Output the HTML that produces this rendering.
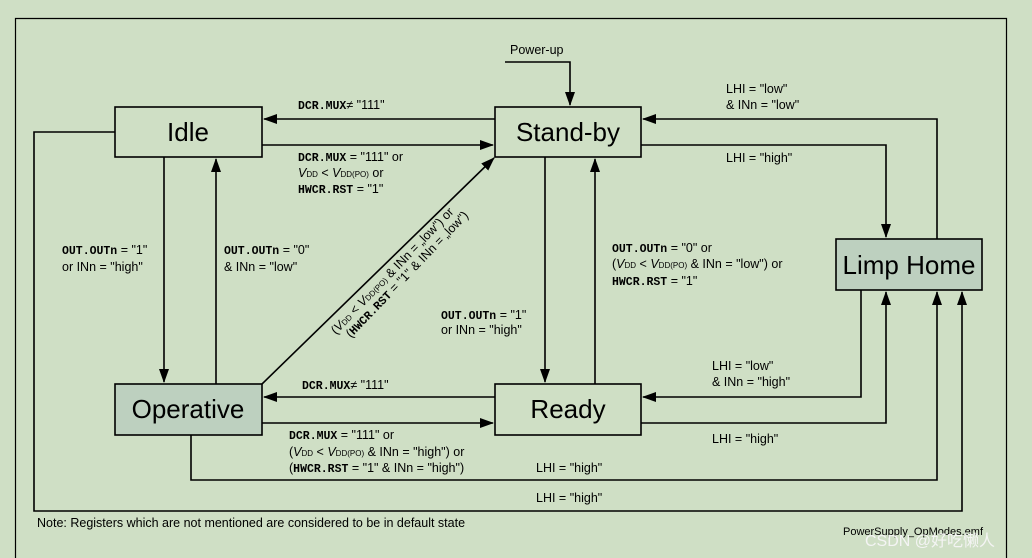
<!DOCTYPE html>
<html><head><meta charset="utf-8"><style>
html,body{margin:0;padding:0;background:#cfdfc5;}
svg{display:block;}
text{font-family:"Liberation Sans",sans-serif;font-size:12.5px;fill:#000;}
.m{font-family:"Liberation Mono",monospace;font-weight:bold;font-size:11.5px;}
.n{font-size:26px;}
.s{font-size:8px;}
</style></head><body>
<svg width="1032" height="558" viewBox="0 0 1032 558" xmlns="http://www.w3.org/2000/svg">
<defs><marker id="a" markerWidth="14" markerHeight="10" refX="13" refY="5" orient="auto" markerUnits="userSpaceOnUse"><path d="M0,0 L14,5 L0,10 z" fill="#000"/></marker></defs>
<rect width="1032" height="558" fill="#cfdfc5"/>
<path d="M15.5,570 V18.5 H1006.5 V570" fill="none" stroke="#000" stroke-width="1.2"/>
<g fill="none" stroke="#000" stroke-width="1.6">
<rect x="115" y="107" width="147" height="50" fill="#cfdfc5"/>
<rect x="495" y="107" width="146" height="50" fill="#cfdfc5"/>
<rect x="836" y="239" width="146" height="51" fill="#bdd0bf"/>
<rect x="115" y="384" width="147" height="51" fill="#bdd0bf"/>
<rect x="495" y="384" width="146" height="51" fill="#cfdfc5"/>
<path d="M505,62 H570 V105" marker-end="url(#a)"/>
<path d="M495,119 H264" marker-end="url(#a)"/>
<path d="M262,145 H493" marker-end="url(#a)"/>
<path d="M164,157 V382" marker-end="url(#a)"/>
<path d="M216,384 V159" marker-end="url(#a)"/>
<path d="M545,157 V382" marker-end="url(#a)"/>
<path d="M595,384 V159" marker-end="url(#a)"/>
<path d="M262,384 L494,158" marker-end="url(#a)"/>
<path d="M495,397 H264" marker-end="url(#a)"/>
<path d="M262,423 H493" marker-end="url(#a)"/>
<path d="M641,145 H886 V237" marker-end="url(#a)"/>
<path d="M937,239 V119 H643" marker-end="url(#a)"/>
<path d="M861,290 V397 H643" marker-end="url(#a)"/>
<path d="M641,423 H886 V292" marker-end="url(#a)"/>
<path d="M191,435 V480 H937 V292" marker-end="url(#a)"/>
<path d="M115,132 H34 V511 H962 V292" marker-end="url(#a)"/>
</g>
<text class="n" x="188" y="141" text-anchor="middle">Idle</text>
<text class="n" x="568" y="141" text-anchor="middle">Stand-by</text>
<text class="n" x="909" y="274" text-anchor="middle">Limp Home</text>
<text class="n" x="188" y="418" text-anchor="middle">Operative</text>
<text class="n" x="568" y="418" text-anchor="middle">Ready</text>
<text x="510" y="54">Power-up</text>
<text x="298" y="109"><tspan class="m">DCR.MUX</tspan>≠ "111"</text>
<text x="298" y="161"><tspan class="m">DCR.MUX</tspan> = "111" or</text>
<text x="298" y="177"><tspan font-style="italic">V</tspan><tspan class="s">DD</tspan> &lt; <tspan font-style="italic">V</tspan><tspan class="s">DD(PO)</tspan> or</text>
<text x="298" y="193"><tspan class="m">HWCR.RST</tspan> = "1"</text>
<text x="726" y="93">LHI = "low"</text>
<text x="726" y="109">&amp; INn = "low"</text>
<text x="726" y="162">LHI = "high"</text>
<text x="62" y="254"><tspan class="m">OUT.OUTn</tspan> = "1"</text>
<text x="62" y="271">or INn = "high"</text>
<text x="224" y="254"><tspan class="m">OUT.OUTn</tspan> = "0"</text>
<text x="224" y="271">&amp; INn = "low"</text>
<text x="612" y="252"><tspan class="m">OUT.OUTn</tspan> = "0" or</text>
<text x="612" y="268">(<tspan font-style="italic">V</tspan><tspan class="s">DD</tspan> &lt; <tspan font-style="italic">V</tspan><tspan class="s">DD(PO)</tspan> &amp; INn = "low") or</text>
<text x="612" y="285"><tspan class="m">HWCR.RST</tspan> = "1"</text>
<text x="441" y="319"><tspan class="m">OUT.OUTn</tspan> = "1"</text>
<text x="441" y="334">or INn = "high"</text>
<text x="712" y="370">LHI = "low"</text>
<text x="712" y="386">&amp; INn = "high"</text>
<text x="302" y="389"><tspan class="m">DCR.MUX</tspan>≠ "111"</text>
<text x="289" y="439"><tspan class="m">DCR.MUX</tspan> = "111" or</text>
<text x="289" y="456">(<tspan font-style="italic">V</tspan><tspan class="s">DD</tspan> &lt; <tspan font-style="italic">V</tspan><tspan class="s">DD(PO)</tspan> &amp; INn = "high") or</text>
<text x="289" y="472">(<tspan class="m">HWCR.RST</tspan> = "1" &amp; INn = "high")</text>
<text x="712" y="443">LHI = "high"</text>
<text x="536" y="472">LHI = "high"</text>
<text x="536" y="502">LHI = "high"</text>
<g transform="translate(336,335) rotate(-46)">
<text x="0" y="0">(<tspan font-style="italic">V</tspan><tspan class="s">DD</tspan> &lt; <tspan font-style="italic">V</tspan><tspan class="s">DD(PO)</tspan> &amp; INn = „low") or</text>
<text x="8" y="13">(<tspan class="m">HWCR.RST</tspan> = "1" &amp; INn = „low")</text>
</g>
<text x="37" y="527">Note: Registers which are not mentioned are considered to be in default state</text>
<text x="843" y="535" style="font-size:11px">PowerSupply_OpModes.emf</text>
<text x="865" y="546" style="font-size:16px;fill:#f4f4f4;font-family:'Liberation Sans','Noto Sans CJK SC',sans-serif">CSDN @好吃懒人</text>
</svg>
</body></html>
